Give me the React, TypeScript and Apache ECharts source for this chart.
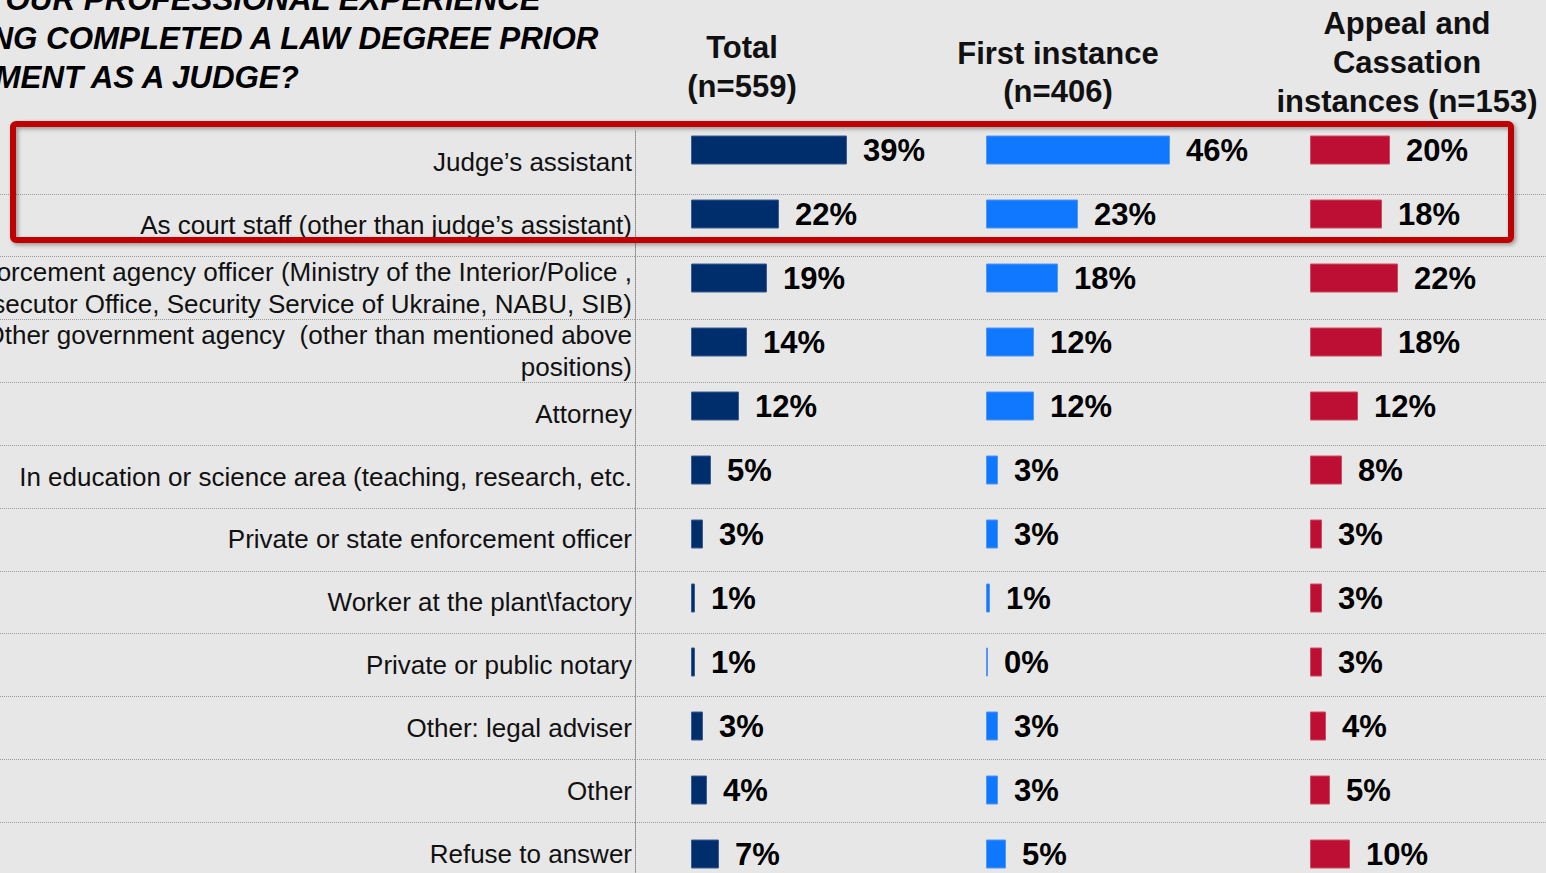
import React, { useEffect, useRef } from "react";
import * as echarts from "echarts";

const categories = [
  "Judge’s assistant",
  "As court staff (other than judge’s assistant)",
  "Law enforcement agency officer (Ministry of the Interior/Police ,\nProsecutor Office, Security Service of Ukraine, NABU, SIB)",
  "Other government agency  (other than mentioned above\npositions)",
  "Attorney",
  "In education or science area (teaching, research, etc.",
  "Private or state enforcement officer",
  "Worker at the plant\\factory",
  "Private or public notary",
  "Other: legal adviser",
  "Other",
  "Refuse to answer",
];

const totalValues = [39, 22, 19, 14, 12, 5, 3, 1, 1, 3, 4, 7];
const firstInstanceValues = [46, 23, 18, 12, 12, 3, 3, 1, 0, 3, 3, 5];
const appealValues = [20, 18, 22, 18, 12, 8, 3, 3, 3, 4, 5, 10];

const columnHeaders = [
  "Total\n(n=559)",
  "First instance\n(n=406)",
  "Appeal and\nCassation\ninstances (n=153)",
];

const titleText =
  "WHAT WAS YOUR PROFESSIONAL EXPERIENCE\nAFTER HAVING COMPLETED A LAW DEGREE PRIOR\nTO APPOINTMENT AS A JUDGE?";

const FONT = "'Liberation Sans', Arial, Helvetica, sans-serif";

export default function App() {
  const ref = useRef<HTMLDivElement>(null);

  useEffect(() => {
    if (!ref.current) return;
    const chart = echarts.init(ref.current, null, { renderer: "svg" });

    const barLabel = {
      show: true,
      position: "right",
      distance: 16,
      formatter: "{c}%",
      fontSize: 31,
      fontWeight: "bold",
      color: "#000",
      fontFamily: FONT,
    };

    const mkBar = (idx: number, data: number[], color: string, border: string) => ({
      type: "bar",
      xAxisIndex: idx,
      yAxisIndex: idx,
      data,
      barWidth: 29,
      barMinHeight: 2,
      itemStyle: { color, borderColor: border, borderWidth: 1 },
      label: barLabel,
    });

    const barGrids = [691, 986, 1310];
    const splitLineStyle = { type: "dotted", color: "#9a9a9a", width: 1 };
    const splitInterval = (index: number) => index !== 0;
    const rowTop = 131;
    const rowsHeight = 754;

    const option: any = {
      animation: false,
      backgroundColor: "#e7e7e7",
      grid: [
        // label column axis + right part of row separators
        { left: 635, right: 0, top: rowTop, height: rowsHeight, outerBoundsMode: "none", containLabel: false },
        ...barGrids.map((l) => ({
          left: l,
          width: 200,
          top: 118,
          height: 768,
          outerBoundsMode: "none",
          containLabel: false,
        })),
        // left part of row separators (under the labels)
        { left: 0, width: 635, top: rowTop, height: rowsHeight, outerBoundsMode: "none", containLabel: false },
      ],
      xAxis: [
        { gridIndex: 0, type: "value", min: 0, max: 1, show: false },
        ...barGrids.map((_, i) => ({
          gridIndex: i + 1,
          type: "value",
          min: 0,
          max: 50,
          show: false,
        })),
        { gridIndex: 4, type: "value", min: 0, max: 1, show: false },
      ],
      yAxis: [
        {
          gridIndex: 0,
          type: "category",
          inverse: true,
          data: categories,
          axisLine: {
            show: true,
            lineStyle: { type: "dotted", color: "#8a8a8a", width: 1 },
          },
          axisTick: { show: false },
          axisLabel: {
            margin: 3,
            fontSize: 26,
            fontFamily: FONT,
            color: "#111",
            lineHeight: 32,
            align: "right",
          },
          splitLine: { show: true, interval: splitInterval, lineStyle: splitLineStyle },
        },
        ...barGrids.map((_, i) => ({
          gridIndex: i + 1,
          type: "category",
          inverse: true,
          data: categories,
          show: false,
        })),
        {
          gridIndex: 4,
          type: "category",
          inverse: true,
          data: categories,
          axisLine: { show: false },
          axisTick: { show: false },
          axisLabel: { show: false },
          splitLine: { show: true, interval: splitInterval, lineStyle: splitLineStyle },
        },
      ],
      series: [
        mkBar(1, totalValues, "#002e6c", "#3a5d92"),
        mkBar(2, firstInstanceValues, "#1077ff", "#4f98f5"),
        mkBar(3, appealValues, "#bd0e33", "#cf4a63"),
      ],
      graphic: [
        {
          type: "text",
          x: -195,
          y: 38,
          style: {
            text: titleText,
            fill: "#000",
            fontSize: 31.3,
            fontWeight: "bold",
            fontStyle: "italic",
            fontFamily: FONT,
            lineHeight: 39,
            align: "left",
            verticalAlign: "middle",
          },
        },
        {
          type: "text",
          x: 742,
          y: 67,
          style: {
            text: columnHeaders[0],
            fill: "#111",
            fontSize: 31,
            fontWeight: "bold",
            fontFamily: FONT,
            lineHeight: 39,
            align: "center",
            verticalAlign: "middle",
          },
        },
        {
          type: "text",
          x: 1058,
          y: 72,
          style: {
            text: columnHeaders[1],
            fill: "#111",
            fontSize: 31,
            fontWeight: "bold",
            fontFamily: FONT,
            lineHeight: 38,
            align: "center",
            verticalAlign: "middle",
          },
        },
        {
          type: "text",
          x: 1407,
          y: 62,
          style: {
            text: columnHeaders[2],
            fill: "#111",
            fontSize: 31,
            fontWeight: "bold",
            fontFamily: FONT,
            lineHeight: 39,
            align: "center",
            verticalAlign: "middle",
          },
        },
        {
          type: "rect",
          z: 100,
          shape: { x: 13, y: 124, width: 1498, height: 116, r: 3 },
          style: {
            fill: "none",
            stroke: "#c00000",
            lineWidth: 6,
            shadowBlur: 4,
            shadowOffsetX: 2,
            shadowOffsetY: 2,
            shadowColor: "rgba(0,0,0,0.35)",
          },
        },
      ],
    };

    chart.setOption(option);
    return () => chart.dispose();
  }, []);

  return (
    <div
      ref={ref}
      style={{ position: "absolute", left: 0, top: 0, width: 1546, height: 873 }}
    />
  );
}
